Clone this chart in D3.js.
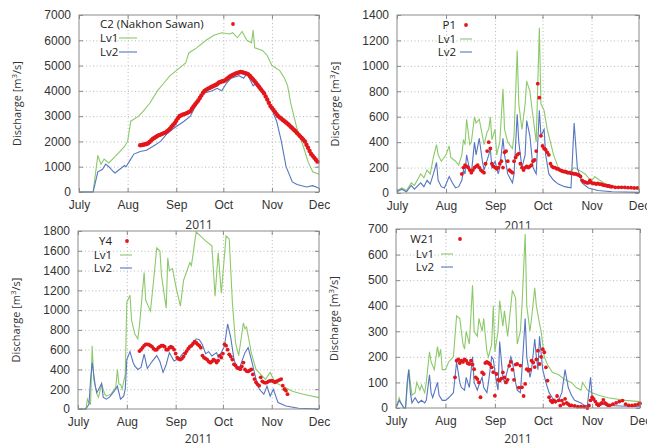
<!DOCTYPE html>
<html>
<head>
<meta charset="utf-8">
<script src="https://cdn.jsdelivr.net/npm/d3@7"></script>
<style>
  body { margin: 0; background: #fff; }
  svg { font-family: "Open Sans", sans-serif; }
</style>
</head>
<body>
<script>
// x positions are days counted from 1 July 2011
const monthDays = [0, 31, 62, 92, 123, 153];
const monthNames = ["July", "Aug", "Sep", "Oct", "Nov", "Dec"];

// C2 (Nakhon Sawan)
const c2Lv1 = [[0,0],[9,0],[12,1450],[14,1100],[16,1300],[19,1150],[23,1400],[26,1600],[29,1800],[31,2000],[33,2800],[38,3000],[41,3200],[45,3500],[50,4000],[54,4300],[58,4600],[64,4900],[68,5100],[70,5500],[75,5700],[81,6000],[86,6200],[91,6300],[96,6250],[98,6300],[101,6100],[104,6350],[107,6000],[110,5900],[111,6400],[112,5700],[117,5600],[120,5400],[123,5000],[128,4800],[131,4500],[133,4200],[135,3500],[139,2500],[143,1800],[146,1200],[149,800],[153,700]];
const c2Lv2 = [[0,0],[9,0],[12,800],[15,900],[17,1100],[19,1000],[22,800],[23,750],[26,900],[29,1050],[30,1000],[33,1300],[35,1500],[39,1600],[43,1650],[47,1800],[52,2000],[56,2300],[60,2500],[67,2800],[71,3000],[75,3500],[79,3900],[85,4000],[88,4100],[91,4000],[94,4300],[97,4500],[102,4600],[105,4500],[107,4700],[111,4200],[113,4300],[118,3900],[122,3400],[126,2800],[129,2000],[132,1000],[136,400],[139,300],[145,200],[149,250],[153,150]];
const c2ObsStart = 39;
const c2Obs = [1850,1860,1870,1890,1900,1930,1980,2040,2100,2140,2180,2220,2250,2270,2300,2330,2350,2390,2440,2500,2580,2650,2720,2820,2920,3000,3030,3060,3080,3100,3130,3160,3200,3290,3380,3460,3540,3620,3720,3820,3920,4000,4040,4080,4110,4140,4170,4200,4230,4260,4320,4350,4370,4390,4410,4460,4510,4560,4600,4630,4660,4690,4710,4730,4750,4740,4720,4700,4680,4650,4590,4520,4450,4380,4300,4220,4140,4060,3980,3900,3780,3660,3530,3400,3320,3240,3160,3080,3000,2950,2900,2850,2800,2750,2700,2640,2580,2520,2460,2400,2330,2270,2200,2140,2070,2000,1870,1750,1620,1500,1430,1350,1280,1200];

// P1
const p1Lv1 = [[0,20],[3,40],[6,20],[9,80],[11,60],[15,150],[17,120],[19,180],[21,150],[23,280],[25,380],[26,300],[28,250],[31,300],[33,370],[34,280],[37,250],[39,220],[41,300],[42,420],[43,380],[44,580],[46,380],[47,400],[49,600],[50,550],[52,580],[54,450],[55,380],[57,480],[58,500],[59,600],[60,420],[62,500],[63,300],[65,400],[67,820],[68,500],[70,400],[73,350],[74,450],[76,1120],[77,700],[79,500],[81,700],[82,880],[84,800],[86,600],[88,400],[90,1300],[91,700],[93,650],[95,500],[97,400],[99,300],[102,200],[105,160],[108,150],[112,200],[115,180],[119,150],[123,90],[125,130],[127,110],[132,70],[138,50],[144,40],[153,30]];
const p1Lv2 = [[0,10],[3,30],[6,10],[9,60],[11,30],[15,80],[17,50],[19,100],[21,70],[23,150],[25,240],[26,100],[28,50],[30,40],[33,130],[35,80],[37,40],[39,50],[41,100],[42,180],[43,150],[44,300],[46,180],[47,150],[49,400],[50,300],[52,430],[54,250],[55,180],[58,300],[59,350],[60,200],[62,250],[64,150],[65,200],[67,430],[68,300],[70,150],[73,80],[74,150],[76,620],[77,400],[79,200],[81,300],[82,570],[84,450],[86,200],[88,150],[90,650],[91,450],[93,500],[94,300],[96,150],[99,100],[102,70],[106,50],[110,40],[112,550],[114,200],[117,80],[121,40],[127,20],[136,10],[153,5]];
const p1Obs = [[41,150],[42,200],[43,220],[44,210],[45,200],[46,180],[47,160],[48,180],[49,200],[50,210],[51,220],[52,200],[53,180],[54,170],[55,160],[56,230],[57,330],[58,400],[59,350],[60,230],[61,210],[62,200],[63,190],[64,200],[65,230],[66,250],[67,200],[68,320],[69,330],[70,250],[71,180],[72,170],[73,160],[74,250],[75,280],[76,300],[77,310],[78,230],[79,200],[80,180],[81,200],[82,210],[83,200],[84,210],[85,220],[86,250],[87,260],[88,330],[89,860],[90,750],[91,450],[92,370],[93,350],[94,340],[95,320],[96,300],[97,230],[98,210],[99,200],[100,200],[101,190],[102,190],[103,180],[104,175],[105,170],[106,170],[107,165],[108,160],[109,160],[110,155],[111,155],[112,150],[113,150],[114,145],[115,140],[116,130],[117,100],[118,90],[119,85],[120,80],[121,80],[122,100],[123,80],[124,75],[125,75],[126,70],[127,75],[128,70],[129,70],[130,65],[131,60],[132,60],[133,55],[134,55],[135,50],[136,50],[138,45],[140,45],[142,45],[144,45],[146,42],[148,42],[150,40],[152,40]];

// Y4
const y4Lv1 = [[0,0],[5,0],[6,100],[7,60],[8,50],[9,640],[10,300],[12,150],[13,120],[15,250],[17,150],[18,130],[21,150],[23,200],[24,220],[25,400],[26,250],[27,250],[28,200],[30,350],[31,1080],[33,1150],[34,900],[36,760],[38,710],[39,840],[42,1380],[43,1100],[46,990],[48,1300],[50,1630],[52,1600],[53,1350],[56,1020],[57,1530],[58,1400],[60,1420],[62,1250],[65,1040],[67,1300],[71,1480],[72,1450],[75,1790],[77,1760],[81,1700],[85,1650],[87,1140],[89,1580],[91,1170],[94,1750],[96,1720],[98,1080],[100,670],[102,540],[105,870],[106,810],[107,830],[110,570],[113,400],[119,300],[122,370],[125,270],[130,230],[136,180],[143,150],[153,115]];
const y4Lv2 = [[0,0],[5,0],[7,50],[8,300],[9,470],[11,230],[12,165],[15,260],[16,120],[18,100],[20,120],[23,180],[25,230],[27,100],[29,130],[30,200],[31,500],[33,580],[35,470],[36,435],[38,400],[40,420],[42,556],[44,410],[47,480],[50,540],[52,480],[54,370],[56,450],[58,570],[61,485],[64,510],[67,570],[70,600],[73,650],[75,710],[77,700],[79,650],[81,560],[83,580],[85,536],[88,570],[89,520],[91,570],[93,640],[95,860],[97,720],[99,505],[101,405],[103,436],[106,570],[108,620],[110,505],[113,303],[115,202],[118,150],[120,232],[122,130],[124,200],[127,65],[132,30],[140,8],[153,0]];
const y4ObsStart = 39;
const y4Obs = [586,600,620,640,654,654,650,640,630,610,597,600,620,630,640,640,630,600,600,620,630,620,600,560,520,505,500,510,530,560,586,610,630,640,660,680,670,654,640,620,540,519,510,500,480,468,480,500,490,470,490,540,520,560,654,640,600,553,530,500,452,440,418,410,403,430,469,400,384,380,390,400,350,303,270,250,236,320,280,270,265,270,280,285,287,280,270,280,287,295,303,236,200,185,150];

// W21
const w21Lv1 = [[0,0],[2,40],[3,20],[5,0],[6,0],[8,150],[10,50],[12,60],[13,100],[15,70],[16,90],[18,60],[19,100],[21,220],[22,180],[24,150],[26,240],[27,200],[28,230],[29,150],[31,150],[33,180],[36,200],[38,360],[40,350],[42,250],[43,230],[44,300],[46,250],[48,480],[49,300],[51,280],[52,350],[54,300],[55,350],[57,220],[58,200],[60,250],[61,400],[62,220],[64,300],[65,420],[67,320],[68,380],[70,280],[72,400],[73,460],[75,430],[76,250],[78,300],[79,400],[81,680],[82,400],[84,300],[85,350],[87,470],[88,400],[90,330],[91,300],[93,200],[95,170],[98,140],[102,130],[106,110],[110,100],[113,80],[116,70],[117,100],[120,70],[123,60],[127,50],[133,40],[144,30],[153,25]];
const w21Lv2 = [[0,0],[2,30],[3,20],[5,0],[6,0],[7,100],[8,150],[9,60],[10,20],[12,40],[14,20],[16,30],[18,20],[19,30],[21,130],[22,60],[23,40],[26,100],[27,50],[29,30],[31,30],[33,40],[36,60],[38,180],[40,100],[41,80],[43,70],[44,120],[46,80],[48,200],[49,100],[51,70],[52,90],[54,120],[55,80],[57,60],[58,100],[60,200],[61,190],[63,100],[64,70],[65,260],[67,120],[68,100],[70,150],[72,200],[73,180],[75,100],[76,70],[78,60],[79,150],[81,350],[82,200],[84,120],[85,150],[87,270],[88,200],[89,150],[90,280],[92,150],[94,100],[96,60],[98,40],[100,20],[102,30],[104,60],[106,150],[108,80],[110,50],[112,30],[116,20],[118,10],[120,10],[122,120],[123,40],[126,20],[133,10],[153,5]];
const w21Obs = [[37,120],[38,185],[39,190],[40,176],[41,185],[42,180],[43,190],[44,185],[45,175],[46,172],[47,185],[48,170],[49,152],[50,120],[51,113],[52,100],[53,42],[54,139],[55,133],[56,176],[57,180],[58,176],[59,170],[60,159],[61,140],[62,48],[63,133],[64,110],[65,107],[66,115],[67,139],[68,120],[69,100],[70,110],[71,165],[72,180],[73,150],[74,110],[75,170],[76,172],[77,80],[78,166],[79,81],[80,47],[81,94],[82,152],[83,146],[84,150],[85,185],[86,178],[87,160],[88,190],[89,224],[90,172],[91,200],[92,230],[93,218],[94,159],[95,107],[96,42],[97,29],[98,22],[99,30],[100,25],[101,47],[102,30],[103,9],[104,29],[105,16],[106,36],[107,20],[108,15],[109,10],[110,10],[112,8],[114,5],[116,5],[118,5],[120,0],[121,10],[122,30],[123,42],[124,35],[125,25],[126,15],[127,10],[128,15],[129,20],[130,32],[131,20],[132,15],[133,10],[134,10],[136,15],[138,20],[140,25],[142,29],[144,15],[146,10],[148,10],[150,12],[152,15],[153,18]];

const colors = { lv1: "#8cc96a", lv2: "#5676c0", obs: "#e3161c", text: "#333" };

const width = 647, height = 446;
const svg = d3.select("body").append("svg")
  .attr("width", width).attr("height", height)
  .attr("viewBox", `0 0 ${width} ${height}`);

const panels = [
  { name: "C2 (Nakhon Sawan)", left: 79, right: 319, top: 15, bottom: 192, yMax: 7000, yStep: 1000,
    lv1: c2Lv1, lv2: c2Lv2, obs: c2Obs.map((v, i) => [c2ObsStart + i, v]), r: 2.2, xLabelY: 229,
    legend: { x: 100, anchor: "start", rows: [24, 38, 52], dot: 233, line: [119, 137] } },
  { name: "P1", left: 397, right: 639, top: 15, bottom: 193, yMax: 1400, yStep: 200,
    lv1: p1Lv1, lv2: p1Lv2, obs: p1Obs, r: 1.9, xLabelY: 230,
    legend: { x: 456, anchor: "end", rows: [25, 39, 52], dot: 466, line: [460, 472] } },
  { name: "Y4", left: 78, right: 319, top: 231, bottom: 409, yMax: 1800, yStep: 200,
    lv1: y4Lv1, lv2: y4Lv2, obs: y4Obs.map((v, i) => [y4ObsStart + i, v]), r: 1.9, xLabelY: 443,
    legend: { x: 112, anchor: "end", rows: [241, 255, 268], dot: 127, line: [120, 132] } },
  { name: "W21", left: 396, right: 640, top: 229, bottom: 408, yMax: 700, yStep: 100,
    lv1: w21Lv1, lv2: w21Lv2, obs: w21Obs, r: 1.9, xLabelY: 443,
    legend: { x: 434, anchor: "end", rows: [239, 254, 267], dot: 460, line: [441, 453] } }
];

panels.forEach(p => {
  const x = d3.scaleLinear([0, 153], [p.left, p.right]);
  const y = d3.scaleLinear([0, p.yMax], [p.bottom, p.top]);
  const yTicks = d3.range(0, p.yMax + 1, p.yStep);
  const g = svg.append("g");

  g.append("rect")
    .attr("x", p.left).attr("y", p.top)
    .attr("width", p.right - p.left).attr("height", p.bottom - p.top)
    .attr("fill", "#fff");

  // dotted grid
  g.append("g")
    .attr("transform", `translate(0,${p.bottom})`)
    .call(d3.axisBottom(x).tickValues(monthDays.slice(1, -1)).tickSize(-(p.bottom - p.top)).tickFormat(""))
    .call(a => a.select(".domain").remove())
    .call(a => a.selectAll("line").attr("stroke", "#b8b8b8").attr("stroke-dasharray", "1,2.5"));
  g.append("g")
    .attr("transform", `translate(${p.left},0)`)
    .call(d3.axisLeft(y).tickValues(yTicks.slice(1, -1)).tickSize(-(p.right - p.left)).tickFormat(""))
    .call(a => a.select(".domain").remove())
    .call(a => a.selectAll("line").attr("stroke", "#b8b8b8").attr("stroke-dasharray", "1,2.5"));

  const line = d3.line().x(d => x(d[0])).y(d => y(d[1]));
  g.append("path").datum(p.lv1).attr("d", line)
    .attr("fill", "none").attr("stroke", colors.lv1).attr("stroke-width", 1.1);
  g.append("path").datum(p.lv2).attr("d", line)
    .attr("fill", "none").attr("stroke", colors.lv2).attr("stroke-width", 1.1);
  g.append("g").selectAll("circle").data(p.obs).join("circle")
    .attr("cx", d => x(d[0])).attr("cy", d => y(d[1])).attr("r", p.r)
    .attr("fill", colors.obs);

  // frame
  g.append("rect")
    .attr("x", p.left).attr("y", p.top)
    .attr("width", p.right - p.left).attr("height", p.bottom - p.top)
    .attr("fill", "none").attr("stroke", "#8a8a8a").attr("stroke-width", 1);

  // axes with small inward ticks
  const styleAxis = a => {
    a.select(".domain").remove();
    a.selectAll(".tick line").attr("stroke", "#8a8a8a");
    a.selectAll(".tick text").attr("fill", colors.text).attr("font-size", 12);
  };
  g.append("g").attr("transform", `translate(0,${p.bottom})`)
    .call(d3.axisBottom(x).tickValues(monthDays).tickFormat((d, i) => monthNames[i]).tickSizeInner(-4).tickSizeOuter(0).tickPadding(8))
    .call(styleAxis);
  g.append("g").attr("transform", `translate(0,${p.top})`)
    .call(d3.axisTop(x).tickValues(monthDays).tickFormat("").tickSizeInner(-4).tickSizeOuter(0))
    .call(styleAxis);
  g.append("g").attr("transform", `translate(${p.left},0)`)
    .call(d3.axisLeft(y).tickValues(yTicks).tickFormat(d3.format("d")).tickSizeInner(-4).tickSizeOuter(0).tickPadding(8))
    .call(styleAxis);
  g.append("g").attr("transform", `translate(${p.right},0)`)
    .call(d3.axisRight(y).tickValues(yTicks).tickFormat("").tickSizeInner(-4).tickSizeOuter(0))
    .call(styleAxis);

  // axis titles
  g.append("text")
    .attr("x", (p.left + p.right) / 2).attr("y", p.xLabelY)
    .attr("text-anchor", "middle").attr("font-size", 12).attr("fill", colors.text)
    .text("2011");
  const yl = g.append("text")
    .attr("transform", `translate(${p.left - 58},${(p.top + p.bottom) / 2}) rotate(-90)`)
    .attr("text-anchor", "middle").attr("font-size", 11).attr("fill", colors.text);
  yl.append("tspan").text("Discharge [m");
  yl.append("tspan").attr("font-size", 8).attr("dy", -4).text("3");
  yl.append("tspan").attr("dy", 4).text("/s]");

  // legend
  const L = p.legend;
  const names = [p.name, "Lv1", "Lv2"];
  names.forEach((n, i) => {
    g.append("text")
      .attr("x", L.x).attr("y", L.rows[i] + 4)
      .attr("text-anchor", L.anchor).attr("font-size", 11.5).attr("fill", "#222")
      .text(n);
  });
  g.append("circle").attr("cx", L.dot).attr("cy", L.rows[0]).attr("r", 1.9).attr("fill", colors.obs);
  g.append("line").attr("x1", L.line[0]).attr("x2", L.line[1])
    .attr("y1", L.rows[1]).attr("y2", L.rows[1]).attr("stroke", colors.lv1).attr("stroke-width", 1.1);
  g.append("line").attr("x1", L.line[0]).attr("x2", L.line[1])
    .attr("y1", L.rows[2]).attr("y2", L.rows[2]).attr("stroke", colors.lv2).attr("stroke-width", 1.1);
});
</script>
</body>
</html>
